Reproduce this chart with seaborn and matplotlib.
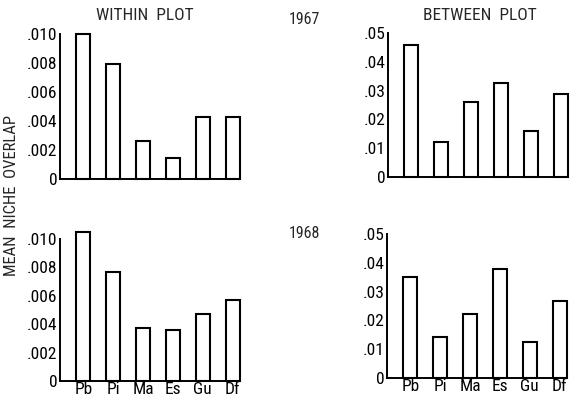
import matplotlib
matplotlib.use("Agg")
import matplotlib.pyplot as plt
import seaborn as sns
import pandas as pd

# Species codes along the x axis
species = ["Pb", "Pi", "Ma", "Es", "Gu", "Df"]

# Mean niche overlap, by year and scale
within_1967 = [0.0100, 0.0079, 0.0026, 0.00145, 0.0043, 0.0043]
between_1967 = [0.046, 0.012, 0.026, 0.0325, 0.016, 0.0288]
within_1968 = [0.0105, 0.0077, 0.0037, 0.0036, 0.0047, 0.0057]
between_1968 = [0.0351, 0.0141, 0.0221, 0.038, 0.0125, 0.0266]

# Y tick values and their printed labels
within_ticks = [0, 0.002, 0.004, 0.006, 0.008, 0.010]
within_labels = ["0", ".002", ".004", ".006", ".008", ".010"]
between_ticks = [0, 0.01, 0.02, 0.03, 0.04, 0.05]
between_labels = ["0", ".01", ".02", ".03", ".04", ".05"]

sns.set_style("white")
plt.rcParams["font.family"] = ["Roboto Condensed", "DejaVu Sans"]

W, H = 575, 399
fig = plt.figure(figsize=(W / 100, H / 100), dpi=100)


def px_axes(left, top, right, bottom):
    return fig.add_axes([left / W, 1 - bottom / H, (right - left) / W, (bottom - top) / H])


panels = [
    (px_axes(60, 34, 240, 179), within_1967, within_ticks, within_labels, False),
    (px_axes(388, 33, 568, 177), between_1967, between_ticks, between_labels, False),
    (px_axes(60, 239, 240, 381), within_1968, within_ticks, within_labels, True),
    (px_axes(387, 234, 567, 378), between_1968, between_ticks, between_labels, True),
]

for ax, vals, ticks, labels, show_x in panels:
    df = pd.DataFrame({"species": species, "overlap": vals})
    sns.barplot(data=df, x="species", y="overlap", color="white",
                edgecolor="black", linewidth=1.5, width=0.48, ax=ax,
                saturation=1)
    for patch in ax.patches:
        patch.set_clip_on(False)
    ax.set_xlim(-0.78, 5.245)
    ax.set_ylim(0, ticks[-1])
    ax.set_yticks(ticks)
    ax.set_yticklabels(labels)
    ax.set_xlabel("")
    ax.set_ylabel("")
    for s in ("top", "right"):
        ax.spines[s].set_visible(False)
    for s in ("left", "bottom"):
        ax.spines[s].set_linewidth(1.4)
        ax.spines[s].set_color("black")
    ax.tick_params(axis="y", direction="out", length=2, width=1, pad=0,
                   labelsize=12.5, colors="black")
    if show_x:
        ax.tick_params(axis="x", length=0, pad=0.5, labelsize=12.5, colors="black")
    else:
        ax.tick_params(axis="x", length=0, labelbottom=False)

fig.text(145 / W, 1 - 15 / H, "WITHIN  PLOT", ha="center", va="center", fontsize=12.5)
fig.text(480 / W, 1 - 15 / H, "BETWEEN  PLOT", ha="center", va="center", fontsize=12.5)
fig.text(304 / W, 1 - 20 / H, "1967", ha="center", va="center", fontsize=11.5)
fig.text(304 / W, 1 - 233 / H, "1968", ha="center", va="center", fontsize=11.5)
fig.text(12 / W, 1 - 196 / H, "MEAN  NICHE  OVERLAP", ha="center", va="center",
         rotation=90, fontsize=12)

fig.savefig("out.png", dpi=100, facecolor="white")
